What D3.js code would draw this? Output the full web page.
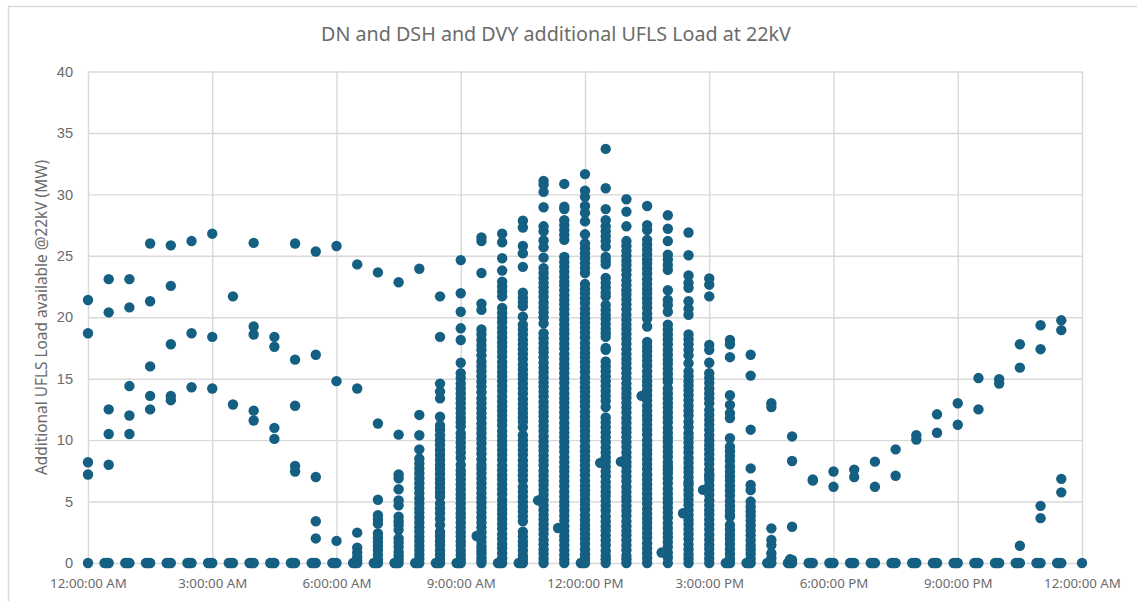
<!DOCTYPE html>
<html>
<head>
<meta charset="utf-8">
<script src="https://cdn.jsdelivr.net/npm/d3@7"></script>
<style>
  body { margin: 0; background: #fff; }
  text { font-family: "Noto Sans", sans-serif; fill: #6b6b6b; }
</style>
</head>
<body>
<svg id="chart"></svg>
<script>
const chartTitle = 'DN and DSH and DVY additional UFLS Load at 22kV';
const yAxisTitle = 'Additional UFLS Load available @22kV (MW)';
const xTickHours = [0, 3, 6, 9, 12, 15, 18, 21, 24];
const xTickLabels = ['12:00:00 AM', '3:00:00 AM', '6:00:00 AM', '9:00:00 AM', '12:00:00 PM', '3:00:00 PM', '6:00:00 PM', '9:00:00 PM', '12:00:00 AM'];
const yTicks = [0, 5, 10, 15, 20, 25, 30, 35, 40];

// Load readings per half hour, first row is 12:00 AM, last row is 12:00 AM next day
const halfHourLoads = [
  [21.4, 18.7, 8.2, 7.2, 0],
  [23.1, 20.4, 12.5, 10.5, 8, 0],
  [23.1, 20.8, 14.4, 12, 10.5, 0],
  [26, 21.3, 16, 13.6, 12.5, 0],
  [25.85, 22.55, 17.8, 13.6, 13.25, 0],
  [26.2, 18.7, 14.3, 0],
  [26.8, 18.4, 14.2, 0],
  [21.7, 12.9, 0],
  [26.05, 19.25, 18.6, 12.4, 11.6, 0],
  [18.4, 17.6, 11, 10.1, 0],
  [26, 16.55, 12.8, 7.9, 7.45, 0],
  [25.35, 16.95, 7, 3.4, 2, 0],
  [25.8, 14.8, 1.8, 0],
  [24.3, 14.2, 2.47, 1.25, 0.85, 0.5, 0.25, 0],
  [23.65, 11.35, 5.15, 3.9, 3.55, 3.2, 2.4, 2.05, 1.7, 1.4, 1.05, 0.65, 0.3, 0],
  [22.85, 10.45, 7.2, 6.9, 6, 5.1, 4.7, 3.77, 3.4, 3.1, 2.7, 2, 1.65, 1.3, 0.9, 0.6, 0.3, 0],
  [23.95, 12.05, 10.4, 9.25, 8.5, 8.1, 7.7, 7.3, 6.9, 6.5, 6.1, 5.7, 5.25, 4.85, 4.45, 4.1, 3.7, 3.3, 2.9, 2.55, 2.15, 1.8, 1.4, 1.05, 0.7, 0.35, 0],
  [21.7, 18.4, 14.6, 13.95, 13.4, 11.9, 11.2, 10.85, 10.4, 10, 9.6, 9.2, 8.8, 8.4, 8, 7.65, 7.25, 6.85, 6.5, 6.1, 5.75, 5.4, 4.85, 4.45, 4.05, 3.6, 3.1, 2.55, 2.2, 1.8, 1.45, 1.05, 0.7, 0.35, 0],
  [24.65, 21.95, 20.45, 19.1, 18.15, 16.3, 15.45, 15.05, 14.6, 14.2, 13.8, 13.4, 13, 12.6, 12.2, 11.8, 11.45, 11.1, 10.56, 10.2, 9.8, 9.4, 9, 8.55, 8, 7.55, 7.2, 6.8, 6.4, 6, 5.6, 5.25, 4.85, 4.45, 4.05, 3.7, 3.3, 2.9, 2.5, 2.15, 1.75, 1.4, 1, 0.65, 0.3, 0],
  [26.5, 26.2, 23.6, 21.1, 20.6, 19, 18.6, 18.15, 17.75, 17.35, 16.9, 16.4, 16, 15.6, 15.2, 14.75, 14.35, 13.9, 13.4, 13, 12.6, 12.2, 11.8, 11.35, 10.95, 10.55, 10.15, 9.75, 9.3, 8.9, 8.45, 8, 7.7, 7.3, 6.9, 6.5, 6.1, 5.7, 5.3, 4.9, 4.5, 4.1, 3.7, 3.3, 2.9, 2.5, 2.1, 1.7, 1.35, 1.06, 0.8, 0.45, 0.2, 0],
  [26.8, 26.1, 24.8, 23.8, 22.9, 22.5, 22.1, 21.7, 20.75, 20.35, 19.95, 19.6, 19.15, 18.75, 18.35, 17.95, 17.6, 17.2, 16.8, 16.35, 15.95, 15.55, 15.2, 14.8, 14.4, 14, 13.55, 13.15, 12.75, 12.4, 12, 11.6, 11.2, 10.75, 10.35, 9.95, 9.6, 9.2, 8.8, 8.4, 7.95, 7.55, 7.15, 6.8, 6.4, 6, 5.6, 5.15, 4.75, 4.35, 4, 3.6, 3.2, 2.8, 2.35, 1.95, 1.55, 1.2, 0.8, 0.4, 0],
  [27.85, 27.3, 25.8, 25.2, 24.1, 22, 21.6, 21.25, 20.9, 20.05, 19.4, 19, 18.6, 18.16, 17.8, 17.4, 17, 16.6, 16.15, 15.75, 15.35, 15, 14.6, 14.2, 13.8, 13.35, 12.95, 12.55, 12.2, 11.85, 11.5, 11.05, 10.4, 10, 9.6, 9.2, 8.8, 8.35, 7.95, 7.55, 7.15, 6.75, 6.2, 5.8, 5.4, 5, 4.6, 4.2, 3.8, 3.4, 2.55, 2.15, 1.75, 1.4, 1, 0.6, 0.3, 0],
  [31.1, 30.8, 30.2, 28.95, 27.4, 27, 26.25, 25.7, 24.85, 24, 23.6, 23.2, 22.8, 22.45, 22.05, 21.65, 21.2, 20.8, 20.4, 20, 19.5, 18.7, 18.3, 17.9, 17.5, 17.15, 16.75, 16.3, 15.9, 15.5, 15.1, 14.7, 14.35, 13.95, 13.55, 13.1, 12.7, 12.3, 11.95, 11.55, 11.15, 10.75, 10.3, 9.9, 9.5, 9.15, 8.75, 8.35, 7.95, 7.5, 7.1, 6.7, 6.35, 5.95, 5.55, 5.15, 4.7, 4.3, 3.9, 3.55, 3.15, 2.75, 2.35, 1.9, 1.5, 1.1, 0.75, 0.35, 0],
  [30.85, 29, 28.8, 27.9, 27.5, 27.1, 26.7, 26.3, 24.9, 24.5, 24.1, 23.7, 23.3, 22.9, 22.6, 22.2, 21.8, 21.4, 21.05, 20.65, 20.25, 19.8, 19.4, 19, 18.65, 18.25, 17.85, 17.45, 17, 16.6, 16.2, 15.85, 15.45, 15.05, 14.65, 14.2, 13.8, 13.4, 13.05, 12.65, 12.25, 11.85, 11.4, 11, 10.6, 10.25, 9.85, 9.45, 9.05, 8.6, 8.2, 7.8, 7.45, 7.05, 6.65, 6.25, 5.8, 5.4, 5, 4.65, 4.25, 3.85, 3.45, 3, 2.6, 2.2, 1.85, 1.45, 1.05, 0.65, 0.3, 0],
  [31.65, 30.3, 29.8, 29.05, 28.5, 27.8, 26.75, 26, 25.6, 25.2, 24.8, 24.4, 24, 23.6, 22.7, 22.3, 21.95, 21.55, 21.15, 20.7, 20.3, 19.9, 19.55, 19.15, 18.75, 18.35, 17.9, 17.5, 17.1, 16.75, 16.35, 15.95, 15.55, 15.1, 14.7, 14.3, 13.95, 13.55, 13.15, 12.75, 12.3, 11.9, 11.5, 11.15, 10.75, 10.35, 9.95, 9.5, 9.1, 8.7, 8.35, 7.95, 7.55, 7.15, 6.7, 6.3, 5.9, 5.55, 5.15, 4.75, 4.35, 3.9, 3.5, 3.1, 2.75, 2.35, 1.95, 1.55, 1.1, 0.7, 0.35, 0],
  [33.7, 30.5, 28.8, 27.9, 27.4, 27, 26.6, 26.2, 25.75, 24.9, 24.6, 24.3, 23.2, 22.8, 22.4, 22, 21.7, 21, 20.6, 20.2, 19.85, 19.45, 19.05, 18.7, 18.4, 17.5, 17.35, 16.4, 16, 15.6, 15.2, 14.8, 14.4, 14, 13.6, 13.2, 12.7, 11.85, 11.45, 11.05, 10.65, 10.25, 9.85, 9.4, 9, 8.6, 8.25, 7.85, 7.45, 7.05, 6.6, 6.2, 5.8, 5.45, 5.05, 4.65, 4.25, 3.8, 3.4, 3, 2.65, 2.25, 1.85, 1.45, 1, 0.6, 0.3, 0],
  [29.6, 28.6, 27.4, 26.2, 25.8, 25.4, 25, 24.6, 24.25, 23.85, 23.45, 23, 22.6, 22.2, 21.85, 21.45, 21.05, 20.65, 20.2, 19.8, 19.4, 19.05, 18.65, 18.25, 17.85, 17.4, 17, 16.6, 16.25, 15.85, 15.45, 15.05, 14.6, 14.2, 13.8, 13.45, 13.05, 12.65, 12.25, 11.8, 11.4, 11, 10.65, 10.25, 9.85, 9.45, 9, 8.6, 8.2, 7.85, 7.45, 7.05, 6.65, 6.2, 5.8, 5.4, 5.05, 4.65, 4.25, 3.85, 3.4, 3, 2.6, 2.25, 1.85, 1.45, 1.05, 0.6, 0.3, 0],
  [29.05, 27.5, 27.1, 26.3, 25.9, 25.5, 25.1, 24.7, 24.35, 23.95, 23.55, 23.1, 22.7, 22.3, 21.95, 21.55, 21.15, 20.75, 20.3, 19.9, 19.25, 18, 17.6, 17.25, 16.85, 16.45, 16.05, 15.6, 15.2, 14.8, 14.45, 14.05, 13.65, 13.25, 12.8, 12.4, 12, 11.65, 11.25, 10.85, 10.45, 10, 9.6, 9.2, 8.85, 8.45, 8.05, 7.65, 7.2, 6.8, 6.4, 6.05, 5.65, 5.25, 4.85, 4.4, 4, 3.6, 3.25, 2.85, 2.45, 2.05, 1.6, 1.2, 0.8, 0.4, 0],
  [28.3, 27.2, 26.2, 25.1, 24.7, 24.25, 23.85, 22.2, 21.4, 21, 20.45, 19.4, 19, 18.6, 18.2, 17.8, 17.35, 16.95, 16.55, 16.2, 15.8, 15.4, 15, 14.75, 14.2, 13.8, 13.4, 13, 12.65, 12.25, 11.85, 11.45, 11, 10.6, 10.2, 9.85, 9.45, 9.05, 8.65, 8.2, 7.85, 7.6, 7.3, 6.9, 6.5, 6.05, 5.65, 5.25, 4.9, 4.5, 4.1, 3.7, 3.25, 2.85, 2.45, 2.1, 1.7, 1.3, 0.85, 0.45, 0],
  [26.9, 25.05, 23.4, 22.8, 22.4, 21.3, 20.7, 20.2, 18.6, 18.2, 17.8, 17.35, 16.9, 16.26, 15.6, 15.2, 14.8, 14.45, 14.05, 13.65, 13.25, 12.8, 12.4, 12, 11.5, 11.05, 10.56, 10.2, 9.8, 9.4, 9, 8.55, 8.15, 7.75, 7.4, 7, 6.6, 6.35, 5.95, 5.55, 5.15, 4.75, 4.3, 3.9, 3.5, 3.15, 2.75, 2.35, 1.95, 1.5, 1.1, 0.7, 0.35, 0],
  [23.15, 22.65, 21.7, 17.75, 17.35, 16.3, 15.45, 15.05, 14.65, 14.2, 13.8, 13.4, 13, 12.46, 12.05, 11.65, 11.25, 10.85, 10.4, 10, 9.6, 9.25, 8.85, 8.45, 8.05, 7.6, 7.2, 7.03, 6.76, 6.35, 5.95, 5.55, 5.1, 4.7, 4.3, 3.95, 3.55, 3.15, 2.75, 2.3, 1.9, 1.5, 1.15, 0.75, 0.35, 0],
  [18.15, 17.8, 16.75, 13.65, 12.87, 12.2, 11.8, 10.15, 9.47, 9.1, 8.7, 8.3, 7.85, 7.45, 7.05, 6.7, 6.3, 5.9, 5.5, 5.05, 4.65, 4.25, 3.9, 3.77, 3.1, 2.7, 2.3, 1.95, 1.55, 1.15, 0.75, 0.35, 0],
  [16.95, 15.25, 10.85, 7.7, 6.35, 5.94, 5, 4.6, 4.2, 3.85, 3.45, 3.05, 2.65, 2.25, 1.85, 1.45, 1.1, 0.75, 0.35, 0],
  [13, 12.7, 2.82, 1.87, 1.46, 0.8, 0.4, 0],
  [10.3, 8.3, 2.95, 0.25, 0],
  [6.8, 6.7, 0],
  [7.45, 6.2, 0],
  [7.6, 7, 0],
  [8.25, 6.2, 0],
  [9.25, 7.1, 0],
  [10.4, 10.05, 0],
  [12.1, 10.6, 0],
  [13, 11.25, 0],
  [15.05, 12.5, 0],
  [14.95, 14.6, 0],
  [17.8, 15.9, 1.4, 0],
  [19.35, 17.4, 4.65, 3.65, 0],
  [19.75, 18.95, 6.85, 5.75, 0],
  [0],
];

// Minutes after midnight of the zero readings that fall just before a half hour mark
const zeroMinutes = [24, 27, 54, 57, 84, 87, 114, 117, 144, 147, 174, 177, 204, 207, 234, 237, 264, 267, 294, 297, 324, 327, 354, 357, 384, 387, 414, 417, 444, 447, 474, 477, 504, 507, 534, 537, 594, 597, 624, 627, 714, 717, 924, 927, 954, 957, 984, 987, 1014, 1017, 1044, 1047, 1074, 1077, 1104, 1107, 1134, 1137, 1164, 1167, 1194, 1197, 1224, 1227, 1254, 1257, 1284, 1287, 1314, 1317, 1344, 1347, 1374, 1377, 1404, 1407];

// Stray readings sitting left of the half hour columns
const strayMinutes = [563, 652, 681, 742, 772, 802, 831, 862, 891, 1017];
const strayLoads = [2.2, 5.1, 2.85, 8.15, 8.25, 13.6, 0.85, 4.05, 5.95, 0.3];

const width = 1137;
const height = 601;
const plot = { left: 88, right: 1082, top: 71.5, bottom: 563 };
const gridColor = '#d9d9d9';
const dotColor = '#156082';

const svg = d3.select('#chart').attr('width', width).attr('height', height);

// Outer frame of the chart, only top and left are visible in the crop
svg.append('path')
  .attr('d', `M8.5,${height}V6.5H${width}`)
  .attr('fill', 'none')
  .attr('stroke', gridColor)
  .attr('stroke-width', 1.5);

const xScale = d3.scaleLinear().domain([0, 24]).range([plot.left, plot.right]);
const yScale = d3.scaleLinear().domain([0, 40]).range([plot.bottom, plot.top]);

const xAxis = d3.axisBottom(xScale)
  .tickValues(xTickHours)
  .tickFormat((d, i) => xTickLabels[i])
  .tickSize(plot.top - plot.bottom)
  .tickPadding(0);

const yAxis = d3.axisLeft(yScale)
  .tickValues(yTicks)
  .tickSize(plot.left - plot.right)
  .tickPadding(0);

const xAxisGrp = svg.append('g')
  .attr('transform', `translate(0,${plot.bottom})`)
  .call(xAxis);

const yAxisGrp = svg.append('g')
  .attr('transform', `translate(${plot.left},0)`)
  .call(yAxis);

[xAxisGrp, yAxisGrp].forEach((grp) => {
  grp.select('.domain').attr('display', 'none');
  grp.selectAll('.tick line').attr('stroke', gridColor).attr('stroke-width', 1.4);
});

xAxisGrp.selectAll('.tick text')
  .attr('y', 25)
  .attr('dy', 0)
  .style('font-size', '13.3px');

yAxisGrp.selectAll('.tick text')
  .attr('x', -15)
  .style('font-family', '"Liberation Sans", sans-serif')
  .style('font-size', '14.6px');

svg.append('text')
  .attr('x', 556)
  .attr('y', 41)
  .attr('text-anchor', 'middle')
  .style('font-size', '19.7px')
  .text(chartTitle);

svg.append('text')
  .attr('transform', 'translate(47,317.5) rotate(-90)')
  .attr('text-anchor', 'middle')
  .style('font-size', '15.4px')
  .text(yAxisTitle);

// Flatten the readings into one point list
const points = halfHourLoads.flatMap((loads, i) =>
  loads.map((load) => ({ hour: i / 2, load }))
);
zeroMinutes.forEach((m) => points.push({ hour: m / 60, load: 0 }));
strayMinutes.forEach((m, i) => points.push({ hour: m / 60, load: strayLoads[i] }));

svg.append('g')
  .selectAll('circle')
  .data(points)
  .enter()
  .append('circle')
  .attr('cx', (d) => xScale(d.hour))
  .attr('cy', (d) => yScale(d.load))
  .attr('r', 5.2)
  .attr('fill', dotColor);
</script>
</body>
</html>
